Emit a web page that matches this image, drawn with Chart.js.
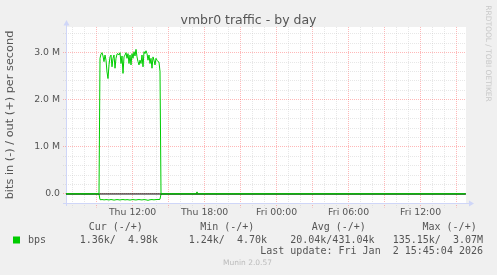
<!DOCTYPE html>
<html><head><meta charset="utf-8">
<script src="https://cdn.jsdelivr.net/npm/chart.js@4/dist/chart.umd.min.js"></script>
<style>html,body{margin:0;padding:0;background:#F0F0F0;overflow:hidden}canvas{display:block}</style>
</head><body>
<canvas id="c" width="497" height="275"></canvas>
<script>
// time axis: minutes since Thu 00:00
const xMin = 387, xMax = 2387;
const times = [387,420,460,500,530,552,
 557,562,567,572,577,582,587,592,597,602,607,612,617,622,627,632,637,642,647,652,657,662,667,672,
 677,682,687,692,697,702,707,712,717,722,727,732,737,742,747,752,757,762,767,772,777,782,787,792,
 797,802,807,812,817,822,827,832,837,842,847,852,857,
 862,900,960,1037,1042,1047,1100,1200,1320,1440,1560,1680,1800,1920,2040,2160,2280,2385];
const outBps = [5000,4900,5100,4800,5200,5000,
 2880000,2970000,3000000,2930000,2810000,2950000,2840000,2590000,2450000,2740000,2910000,2950000,2700000,2880000,
 2950000,2670000,2880000,2970000,2980000,2950000,3000000,2770000,2930000,2560000,2910000,2950000,3000000,2880000,
 2980000,2770000,2950000,2740000,2980000,2880000,3020000,2930000,3070000,2910000,2810000,2740000,2840000,2770000,
 2950000,2700000,3020000,2980000,3040000,2980000,2840000,2950000,2770000,2880000,2670000,2910000,2840000,2740000,
 2880000,2840000,2810000,2800000,2600000,
 5100,4800,5000,4900,45000,5000,4900,4800,5000,4700,4900,5100,4800,5000,4900,5000,4900,4980];
const inBps = [1300,1400,1250,1350,1300,1400,
 120000,122000,118000,121000,125000,123000,119000,120000,124000,127000,
 122000,118000,121000,125000,130000,126000,122000,119000,121000,124000,
 128000,122000,120000,118000,121000,125000,123000,120000,122000,126000,
 129000,124000,121000,119000,122000,125000,127000,123000,120000,118000,
 121000,124000,126000,122000,119000,121000,125000,128000,135150,127000,
 123000,120000,118000,122000,124000,121000,119000,117000,116000,118000,112000,
 1300,1350,1280,1300,1310,1290,1320,1300,1260,1300,1340,1300,1280,1310,1300,1290,1320,1360];
const zeroRule = [0, 0];

const xTicks = [420,480,540,600,660,720,780,840,900,960,1020,1080,1140,1200,1260,1320,1380,1440,
 1500,1560,1620,1680,1740,1800,1860,1920,1980,2040,2100,2160,2220,2280,2340];
const xLabels = {720:'Thu 12:00',1080:'Thu 18:00',1440:'Fri 00:00',1800:'Fri 06:00',2160:'Fri 12:00'};
const yTicks = [-200000,0,200000,400000,600000,800000,1000000,1200000,1400000,1600000,1800000,2000000,
 2200000,2400000,2600000,2800000,3000000,3200000,3400000];
const yLabels = {0:'0.0',1000000:'1.0 M',2000000:'2.0 M',3000000:'3.0 M'};
const yMin = -200000, yMax = 3545000;

const titleText = 'vmbr0 traffic - by day';
const yTitle = 'bits in (-) / out (+) per second';
const seriesName = 'bps';
const legendHeaders = ['Cur (-/+)','Min (-/+)','Avg (-/+)','Max (-/+)'];
const legendValues = ['  1.36k/  4.98k','  1.24k/  4.70k',' 20.04k/431.04k','135.15k/  3.07M'];
const lastUpdate = 'Last update: Fri Jan  2 15:45:04 2026';
const watermark = 'RRDTOOL / TOBI OETIKER';
const version = 'Munin 2.0.57';

const GREEN = '#00CC00', FONT = '#555555', AXIS = '#CFD6F8';
const GRID = 'rgba(192,192,192,0.38)', MGRID = 'rgba(255,0,0,0.28)';

const outData = times.map((t,i)=>({x:t,y:outBps[i]}));
const inData = times.map((t,i)=>({x:t,y:-inBps[i]}));
const zeroData = [{x:xMin,y:zeroRule[0]},{x:xMax,y:zeroRule[1]}];

const munin = {
  id:'munin',
  beforeDraw(chart){
    const {ctx, chartArea:a} = chart;
    ctx.save();
    ctx.fillStyle='#F0F0F0'; ctx.fillRect(0,0,chart.width,chart.height);
    ctx.fillStyle='#FFFFFF'; ctx.fillRect(a.left,a.top,a.right-a.left,Math.floor(a.bottom)-a.top);
    ctx.restore();
  },
  beforeDatasetsDraw(chart){
    const {ctx, chartArea:a} = chart;
    const b = Math.floor(a.bottom);
    ctx.save();
    ctx.fillStyle=AXIS;
    ctx.fillRect(a.left, a.top-4, 1, b-a.top+7);
    ctx.beginPath(); ctx.moveTo(a.left+0.5, a.top-7); ctx.lineTo(a.left-2.5, a.top-1.5); ctx.lineTo(a.left+3.5, a.top-1.5); ctx.closePath(); ctx.fill();
    ctx.fillRect(a.left-3, b, a.right-a.left+7, 1);
    ctx.beginPath(); ctx.moveTo(a.right+8, b+0.5); ctx.lineTo(a.right+3, b-2.5); ctx.lineTo(a.right+3, b+3.5); ctx.closePath(); ctx.fill();
    ctx.restore();
  },
  afterDraw(chart){
    const {ctx, chartArea:a} = chart;
    ctx.save();
    ctx.fillStyle=FONT;
    ctx.font='12.5px "DejaVu Sans"'; ctx.textAlign='center'; ctx.textBaseline='alphabetic';
    ctx.fillText(titleText, 248.5, 24);
    ctx.save(); ctx.translate(10.5,115); ctx.rotate(-Math.PI/2);
    ctx.font='11.3px "DejaVu Sans"'; ctx.textBaseline='middle'; ctx.fillText(yTitle,0,0); ctx.restore();
    ctx.save(); ctx.translate(487.5,53.5); ctx.rotate(Math.PI/2);
    ctx.fillStyle='#C8C8C8'; ctx.font='7.5px "DejaVu Sans"'; ctx.textBaseline='middle'; ctx.fillText(watermark,0,0); ctx.restore();
    ctx.fillStyle='#BBBBBB'; ctx.font='7.5px "DejaVu Sans"'; ctx.textBaseline='middle'; ctx.fillText(version,247.5,263.5);
    ctx.fillStyle=FONT; ctx.font='10px "DejaVu Sans Mono"'; ctx.textBaseline='middle';
    ctx.textAlign='left';
    const hx=[88.7,200.2,311.7,422.5];
    legendHeaders.forEach((h,i)=>ctx.fillText(h,hx[i],227.7));
    ctx.fillText(seriesName,28,240);
    ctx.textAlign='right';
    const vx=[158,267,374.5,483];
    legendValues.forEach((v,i)=>ctx.fillText(v,vx[i],240));
    ctx.fillText(lastUpdate,483,251.5);
    ctx.fillStyle=GREEN; ctx.fillRect(13,236.5,7,7);
    ctx.restore();
  }
};

new Chart(document.getElementById('c'),{
  type:'line',
  data:{datasets:[
    {data:outData,borderColor:GREEN,borderWidth:1,pointRadius:0,fill:false},
    {data:zeroData,borderColor:'#000000',borderWidth:1,pointRadius:0,fill:false},
    {data:inData,borderColor:GREEN,borderWidth:1,pointRadius:0,fill:false}
  ]},
  options:{
    responsive:false,animation:false,devicePixelRatio:1,events:[],
    layout:{padding:{left:0,right:31,top:27,bottom:0}},
    plugins:{legend:{display:false},tooltip:{enabled:false},title:{display:false}},
    scales:{
      x:{type:'linear',min:xMin,max:xMax,
        afterBuildTicks:s=>{s.ticks=xTicks.map(v=>({value:v}));},
        afterFit:s=>{s.height=71.6;},
        grid:{color:c=>(c.tick&&c.tick.value%180===0)?MGRID:GRID,lineWidth:1,tickLength:4,
              tickColor:c=>(c.tick&&c.tick.value%180===0)?MGRID:GRID,borderDash:[1,1],tickBorderDash:[1,1]},
        border:{display:false,dash:[1,1]},
        ticks:{autoSkip:false,maxRotation:0,minRotation:0,padding:0,color:FONT,
          font:{family:'DejaVu Sans',size:9.33},callback:v=>xLabels[v]||''}
      },
      y:{type:'linear',min:yMin,max:yMax,
        afterBuildTicks:s=>{s.ticks=yTicks.map(v=>({value:v}));},
        afterFit:s=>{s.width=66;},
        grid:{color:c=>(c.tick&&c.tick.value%1000000===0)?MGRID:GRID,lineWidth:1,tickLength:3,
              tickColor:c=>(c.tick&&c.tick.value%1000000===0)?MGRID:GRID,borderDash:[1,1],tickBorderDash:[1,1]},
        border:{display:false,dash:[1,1]},
        ticks:{padding:3,color:FONT,font:{family:'DejaVu Sans',size:9.33,lineHeight:0.01},
          callback:v=>(yLabels[v]!==undefined?yLabels[v]:'')}
      }
    }
  },
  plugins:[munin]
});
</script>
</body></html>
